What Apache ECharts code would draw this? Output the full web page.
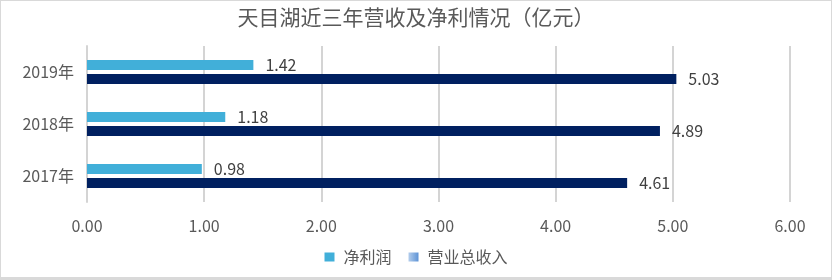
<!DOCTYPE html>
<html><head><meta charset="utf-8">
<script src="https://cdn.jsdelivr.net/npm/echarts@6/dist/echarts.min.js"></script>
<style>html,body{margin:0;padding:0;background:#fff}#c{width:832px;height:280px;box-sizing:border-box;border:1px solid #d9d9d9;border-bottom:3px solid #d9d9d9}</style>
</head><body><div id="c"></div>
<script>
const title = '天目湖近三年营收及净利情况（亿元）';
const categories = ['2017年', '2018年', '2019年'];
const netProfit = [0.98, 1.18, 1.42];
const revenue = [4.61, 4.89, 5.03];
const xTicks = [0, 1, 2, 3, 4, 5, 6];

const chart = echarts.init(document.getElementById('c'));
const font = '"Noto Sans CJK SC", "Liberation Sans", sans-serif';
const valLabel = { show: true, position: 'right', distance: 12, fontFamily: font, fontSize: 16, color: '#404040',
  formatter: p => p.value.toFixed(2) };
chart.setOption({
  animation: false,
  title: { text: title, left: 'center', top: 1,
    textStyle: { fontFamily: font, fontSize: 21, fontWeight: 'normal', color: '#595959' } },
  grid: { left: 86, right: 41, top: 45, height: 156, containLabel: false },
  legend: {
    bottom: 7, left: 'center', itemWidth: 10, itemHeight: 9, itemGap: 17,
    textStyle: { fontFamily: font, fontSize: 16, color: '#595959', padding: [0, 0, 0, 4] },
    data: [
      { name: '净利润', icon: 'rect' },
      { name: '营业总收入', icon: 'rect', itemStyle: { color: new echarts.graphic.LinearGradient(0,0,1,0,[{offset:0,color:'#b3cdec'},{offset:1,color:'#5d93d6'}]) } }
    ]
  },
  xAxis: {
    type: 'value', min: xTicks[0], max: xTicks[xTicks.length-1], interval: 1,
    axisLine: { show: false }, axisTick: { show: false },
    splitLine: { lineStyle: { color: '#d4d4d4', width: 2 } },
    axisLabel: { margin: 16, fontFamily: font, fontSize: 16, color: '#595959',
      formatter: v => v.toFixed(2) }
  },
  yAxis: {
    type: 'category', data: categories,
    axisLine: { show: true, lineStyle: { color: '#d4d4d4', width: 2 } },
    axisTick: { show: false },
    axisLabel: { margin: 13, fontFamily: font, fontSize: 16, color: '#595959' }
  },
  series: [
    { name: '净利润', type: 'bar', data: netProfit, barWidth: 10, barGap: '40%',
      itemStyle: { color: '#41afd9' }, label: valLabel },
    { name: '营业总收入', type: 'bar', data: revenue, barWidth: 10, barGap: '40%',
      itemStyle: { color: '#002060' }, label: valLabel }
  ]
});
</script></body></html>
